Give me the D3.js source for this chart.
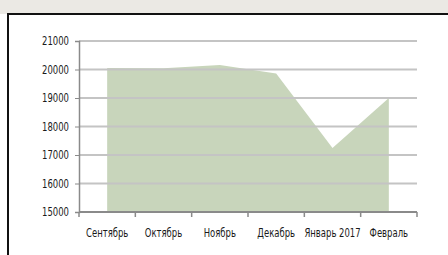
<!DOCTYPE html>
<html lang="ru">
<head>
    <meta charset="UTF-8">
    <title>Chart</title>
    <script src="https://d3js.org/d3.v7.min.js"></script>
    <style>
        body { margin: 0; background: #fff; }
        text { font-family: "DejaVu Sans Condensed", "Liberation Sans", sans-serif; font-size: 11.5px; fill: #1a1a1a; }
    </style>
</head>
<body>
    <div id="chart"></div>
    <script>
        // data
        const months = ["Сентябрь", "Октябрь", "Ноябрь", "Декабрь", "Январь 2017", "Февраль"];
        const values = [20050, 20040, 20160, 19860, 17250, 19000];
        const yTicks = [15000, 16000, 17000, 18000, 19000, 20000, 21000];

        const W = 448, H = 255;
        const m = {left: 79, right: 417, top: 41, bottom: 212};

        const svg = d3.select("#chart").append("svg")
            .attr("width", W)
            .attr("height", H);

        // window-ish frame
        svg.append("rect").attr("x", 0).attr("y", 0).attr("width", W).attr("height", 14).attr("fill", "#ebe9e4");
        svg.append("rect").attr("x", 7).attr("y", 13).attr("width", W - 7).attr("height", 2).attr("fill", "#111");
        svg.append("rect").attr("x", 7).attr("y", 13).attr("width", 2).attr("height", H - 13).attr("fill", "#111");

        const x = d3.scaleBand().domain(months).range([m.left, m.right]);
        const y = d3.scaleLinear().domain([15000, 21000]).range([m.bottom, m.top]);

        const data = months.map((mo, i) => ({ mo: mo, v: values[i] }));

        const area = d3.area()
            .x(d => x(d.mo) + x.bandwidth() / 2)
            .y0(y(15000))
            .y1(d => y(d.v));

        svg.append("path")
            .datum(data)
            .attr("d", area)
            .attr("fill", "#c8d5bb");

        // gridlines on top of the area
        svg.append("g")
            .selectAll("line")
            .data(yTicks.slice(1))
            .join("line")
            .attr("x1", m.left)
            .attr("x2", m.right)
            .attr("y1", d => y(d))
            .attr("y2", d => y(d))
            .attr("stroke", "#c4c4c4")
            .attr("stroke-width", 2);

        // y axis line + ticks
        const yAxis = svg.append("g")
            .attr("transform", "translate(" + m.left + ",0)")
            .call(d3.axisLeft(y).tickValues(yTicks).tickSize(4).tickFormat(""));
        yAxis.select(".domain").attr("stroke", "#8a8a8a").attr("stroke-width", 1.5);
        yAxis.selectAll(".tick line").attr("stroke", "#8a8a8a");

        // narrow font: squeeze glyphs horizontally
        const sx = 0.82;
        svg.append("g").selectAll("text")
            .data(yTicks)
            .join("text")
            .attr("transform", d => "translate(" + (m.left - 10) + "," + y(d) + ") scale(" + sx + ",1)")
            .attr("dy", "0.35em")
            .attr("text-anchor", "end")
            .text(d => d);

        // x axis with ticks between categories
        const xAxis = svg.append("g")
            .attr("transform", "translate(0," + m.bottom + ")");
        xAxis.append("line")
            .attr("x1", m.left).attr("x2", m.right)
            .attr("stroke", "#8a8a8a").attr("stroke-width", 2);
        const bounds = months.map(mo => x(mo)).concat([m.right]);
        xAxis.selectAll(".bt")
            .data(bounds)
            .join("line")
            .attr("class", "bt")
            .attr("x1", d => d).attr("x2", d => d)
            .attr("y1", 0).attr("y2", 5)
            .attr("stroke", "#8a8a8a").attr("stroke-width", 1.5);
        xAxis.selectAll("text")
            .data(months)
            .join("text")
            .attr("transform", d => "translate(" + (x(d) + x.bandwidth() / 2) + ",25) scale(" + sx + ",1)")
            .attr("text-anchor", "middle")
            .text(d => d);
    </script>
</body>
</html>
